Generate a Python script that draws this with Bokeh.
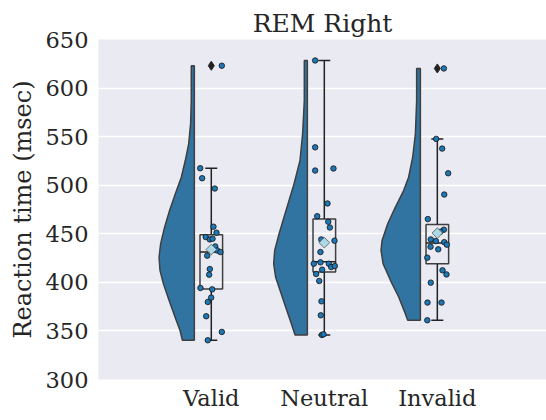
import numpy as np
from bokeh.plotting import figure
from bokeh.models import Range1d, FixedTicker
from bokeh.embed import file_html
from bokeh.resources import INLINE

# ---------------- data ----------------
categories = ["Valid", "Neutral", "Invalid"]
y_ticks = [300, 350, 400, 450, 500, 550, 600, 650]

valid_rt = [623.0, 517.5, 507.2, 496.6, 457.3, 451.1, 446.6, 444.2, 444.9, 437.0, 432.9,
            431.2, 427.5, 413.7, 407.9, 394.2, 392.8, 384.3, 379.8, 365.1, 349.0, 340.4]
valid_jitter = [0.093, -0.098, -0.081, 0.031, 0.019, 0.046, -0.049, -0.013, 0.011, 0.035, 0.052,
                0.081, -0.036, -0.013, -0.019, -0.096, 0.008, -0.001, -0.031, -0.045, 0.093, -0.031]

neutral_rt = [628.4, 539.0, 515.1, 517.2, 481.2, 468.1, 462.4, 456.5, 444.2, 442.9, 431.2, 419.2,
              420.6, 419.2, 415.7, 416.8, 413.1, 408.6, 401.4, 380.5, 366.1, 345.9, 346.5]
neutral_jitter = [-0.081, -0.081, -0.081, 0.081, 0.028, -0.063, 0.035, 0.049, -0.027, 0.090, -0.034,
                  -0.093, -0.034, 0.040, 0.061, 0.093, -0.019, -0.072, -0.045, -0.025, -0.031, -0.022, -0.007]

invalid_rt = [620.2, 547.7, 537.7, 512.3, 490.4, 465.1, 454.2, 452.1, 444.2, 442.5, 441.4,
              438.8, 436.7, 434.0, 425.4, 412.4, 408.2, 399.7, 379.2, 379.2, 361.0]
invalid_jitter = [0.058, -0.010, 0.043, 0.096, 0.061, -0.084, 0.058, 0.028, -0.058, -0.013, 0.061,
                  0.084, -0.060, 0.008, -0.089, 0.046, 0.081, -0.058, -0.087, 0.037, -0.089]

# box-plot statistics
q1 = [393.1, 410.6, 419.2]
median = [431.2, 421.3, 440.4]
q3 = [449.0, 465.1, 459.6]
whisker_lo = [340.4, 345.9, 361.0]
whisker_hi = [517.5, 628.4, 547.7]
means = [433.8, 440.8, 450.7]
outliers = [[623.0], [], [620.2]]

# half-violin outlines (value, density half-width in category units)
valid_kde_y = [623.0, 587.0, 563.1, 542.5, 525.4, 508.2, 491.2, 474.0, 456.8, 439.8, 426.0,
               412.4, 398.7, 381.5, 364.4, 350.7, 340.4]
valid_kde_w = [0.027, 0.027, 0.033, 0.050, 0.080, 0.115, 0.168, 0.219, 0.263, 0.298, 0.312,
               0.304, 0.274, 0.224, 0.171, 0.127, 0.106]
neutral_kde_y = [628.4, 587.0, 552.8, 525.4, 501.4, 484.3, 467.2, 450.1, 432.9, 419.2, 405.5,
                 391.8, 374.6, 357.6, 345.9]
neutral_kde_w = [0.027, 0.027, 0.042, 0.065, 0.118, 0.162, 0.206, 0.250, 0.289, 0.298, 0.281,
                 0.242, 0.192, 0.142, 0.109]
invalid_kde_y = [620.2, 587.0, 552.8, 528.8, 508.2, 494.5, 477.4, 460.3, 443.1, 432.9, 419.2,
                 402.1, 384.9, 367.8, 361.0]
invalid_kde_w = [0.033, 0.033, 0.044, 0.068, 0.104, 0.148, 0.221, 0.289, 0.339, 0.348, 0.330,
                 0.265, 0.192, 0.133, 0.112]

# ---------------- figure ----------------
FONT = "DejaVu Serif"
TXT = "#262626"

p = figure(width=546, height=420, x_range=Range1d(-0.998, 2.966), y_range=Range1d(300, 650),
           output_backend="svg", toolbar_location=None, title="REM Right",
           min_border_left=98, min_border_right=0, min_border_top=39, min_border_bottom=41)

p.background_fill_color = "#EAEAF2"
p.border_fill_color = "white"
p.outline_line_color = None
p.title.text_font = FONT
p.title.text_font_size = "25px"
p.title.text_font_style = "normal"
p.title.text_color = TXT
p.title.align = "center"
p.title.standoff = 4

p.xgrid.grid_line_color = None
p.ygrid.grid_line_color = "white"
p.ygrid.grid_line_width = 1.3

for ax in (p.xaxis[0], p.yaxis[0]):
    ax.axis_line_color = None
    ax.major_tick_line_color = None
    ax.minor_tick_line_color = None
    ax.major_tick_out = 0
    ax.major_tick_in = 0
    ax.major_label_text_font = FONT
    ax.major_label_text_font_size = "22.5px"
    ax.major_label_text_color = TXT

p.yaxis.ticker = FixedTicker(ticks=y_ticks)
p.yaxis.major_label_standoff = 10
p.yaxis.axis_label = "Reaction time (msec)"
p.yaxis.axis_label_text_font = FONT
p.yaxis.axis_label_text_font_size = "24px"
p.yaxis.axis_label_text_font_style = "normal"
p.yaxis.axis_label_text_color = TXT
p.yaxis.axis_label_standoff = 6

p.xaxis.ticker = FixedTicker(ticks=list(range(len(categories))))
p.xaxis.major_label_overrides = {i: c for i, c in enumerate(categories)}
p.xaxis.major_label_standoff = 5

VIOLIN = "#3274A1"
EDGE = "#3f3f3f"
VIOLIN_OFFSET = -0.15   # flat edge of half violin relative to category position
BOX_HALF = 0.10
CAP_HALF = 0.053

kde = [(valid_kde_y, valid_kde_w), (neutral_kde_y, neutral_kde_w), (invalid_kde_y, invalid_kde_w)]
for k, (ys, ws) in enumerate(kde):
    edge = k + VIOLIN_OFFSET
    xs = [edge] + [edge - w for w in ws] + [edge]
    yy = [ys[0]] + list(ys) + [ys[-1]]
    p.patch(xs, yy, fill_color=VIOLIN, line_color=EDGE, line_width=1.5)

# box plots
pos = np.arange(len(categories))
p.quad(left=pos - BOX_HALF, right=pos + BOX_HALF, bottom=q1, top=q3,
       fill_color=None, line_color=EDGE, line_width=1.5)
p.segment(x0=pos, x1=pos, y0=q3, y1=whisker_hi, line_color="#222222", line_width=1.5)
p.segment(x0=pos, x1=pos, y0=q1, y1=whisker_lo, line_color="#222222", line_width=1.5)
p.segment(x0=pos - CAP_HALF, x1=pos + CAP_HALF, y0=whisker_hi, y1=whisker_hi, line_color="#222222", line_width=1.5)
p.segment(x0=pos - CAP_HALF, x1=pos + CAP_HALF, y0=whisker_lo, y1=whisker_lo, line_color="#222222", line_width=1.5)
p.segment(x0=pos - BOX_HALF, x1=pos + BOX_HALF, y0=median, y1=median, line_color="#222222", line_width=1.5)

# outliers
ox, oy = [], []
for k, outs in enumerate(outliers):
    for v in outs:
        ox.append(k)
        oy.append(v)
p.scatter(ox, oy, marker="diamond", size=9, fill_color="#222222", line_color="#222222")

# jittered points
groups = [(valid_rt, valid_jitter), (neutral_rt, neutral_jitter), (invalid_rt, invalid_jitter)]
px, py = [], []
for k, (vals, jit) in enumerate(groups):
    for v, j in zip(vals, jit):
        px.append(k + j)
        py.append(v)
p.scatter(px, py, marker="circle", size=5.5, fill_color="#1f77b4", line_color="#111111", line_width=0.8)

# means
p.scatter(pos, means, marker="square", angle=np.pi / 4, size=7.5, fill_color="#ADD8E6",
          line_color="#555555", line_width=0.8)

open("out.html", "w").write(file_html(p, INLINE))
